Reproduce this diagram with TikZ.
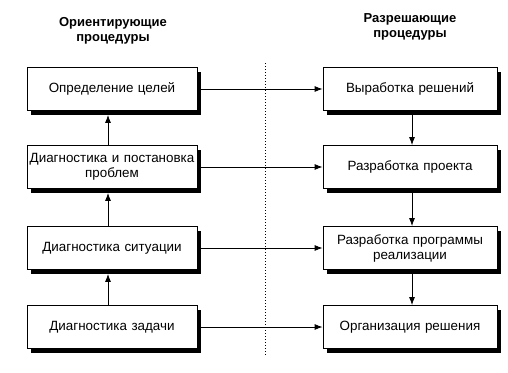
\documentclass[tikz,border=0pt]{standalone}
\usepackage{fontspec}
\setmainfont{Liberation Sans}
\usetikzlibrary{shadows,arrows.meta}
\begin{document}
\begin{tikzpicture}[x=1pt,y=-1pt,line width=0.8pt,
  proc/.style={draw, fill=white, minimum height=43pt, align=center,
    inner sep=2pt, font=\fontsize{13.4}{15}\selectfont,
    drop shadow={shadow xshift=4pt, shadow yshift=-4pt, fill=black, opacity=1}},
  lproc/.style={proc, minimum width=170pt, text width=166pt},
  rproc/.style={proc, minimum width=174pt, text width=170pt},
  head/.style={font=\fontsize{13}{14.5}\selectfont\bfseries, align=center},
  arr/.style={-{Latex[length=8pt,width=6pt]}}]
  \useasboundingbox (0,0) rectangle (508,372);
  \node[head] (lhead) at (113,31) {Ориентирующие\\процедуры};
  \node[head] (rhead) at (410,27) {Разрешающие\\процедуры};
  \coordinate (top) at (265,63);
  \coordinate (bot) at (265,356);
  \draw[dotted, line width=1pt] (top) -- (bot);
  \node[lproc] (l1) at (112,89) {Определение целей};
  \node[lproc] (l2) at (112,167) {Диагностика и постановка\\проблем};
  \node[lproc] (l3) at (112,248) {Диагностика ситуации};
  \node[lproc] (l4) at (112,327) {Диагностика задачи};
  \node[rproc] (r1) at (410,89) {Выработка решений};
  \node[rproc] (r2) at (410,167) {Разработка проекта};
  \node[rproc] (r3) at (410,248) {Разработка программы\\реализации};
  \node[rproc] (r4) at (410,327) {Организация решения};
  \draw[arr] (l1) -- (r1);
  \draw[arr] (l2) -- (r2);
  \draw[arr] (l3) -- (r3);
  \draw[arr] (l4) -- (r4);
  \draw[arr, shorten >=4pt] ([xshift=-4pt]l2.north) -- ([xshift=-4pt]l1.south);
  \draw[arr, shorten >=4pt] ([xshift=-4pt]l3.north) -- ([xshift=-4pt]l2.south);
  \draw[arr, shorten >=4pt] ([xshift=-4pt]l4.north) -- ([xshift=-4pt]l3.south);
  \draw[arr] ([xshift=2pt]r1.south) -- ([xshift=2pt]r2.north);
  \draw[arr] ([xshift=2pt]r2.south) -- ([xshift=2pt]r3.north);
  \draw[arr] ([xshift=2pt]r3.south) -- ([xshift=2pt]r4.north);
\end{tikzpicture}
\end{document}
